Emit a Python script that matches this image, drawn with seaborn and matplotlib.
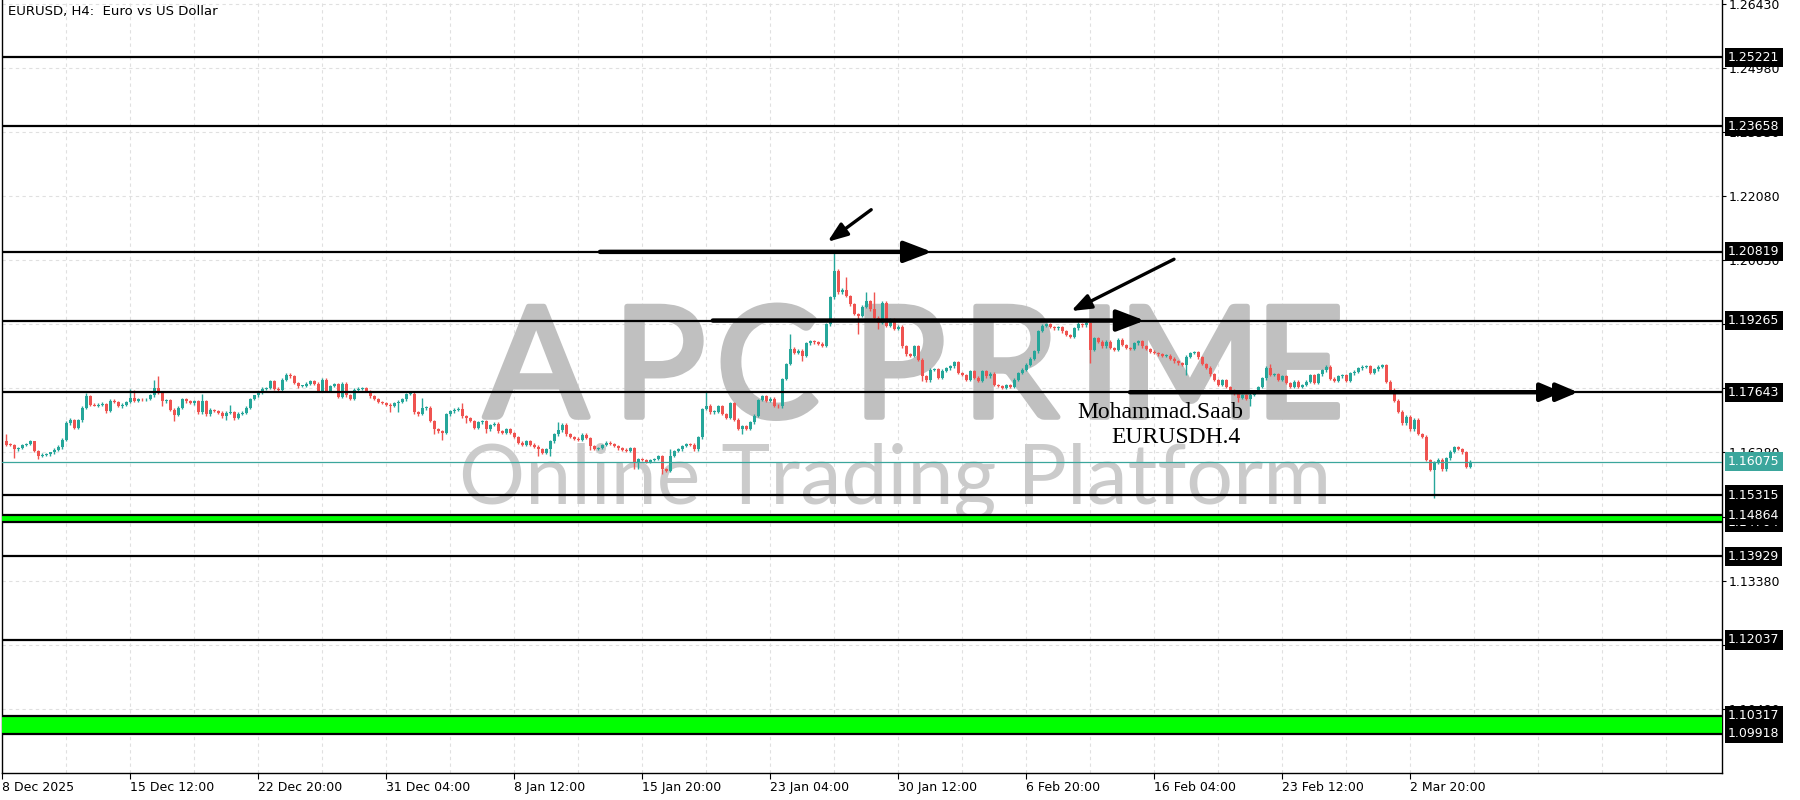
import numpy as np
import pandas as pd
import matplotlib
matplotlib.use('Agg')
import matplotlib.pyplot as plt
import matplotlib.patheffects as pe
import seaborn as sns

# EURUSD H4 candles, first bar 8 Dec 2025 04:00
first_open = 1.1655
closes = [
    1.1646, 1.1645, 1.1635, 1.1638, 1.1645, 1.1647, 1.1653, 1.1631, 1.1620, 1.1623,
    1.1624, 1.1628, 1.1634, 1.1640, 1.1657, 1.1694, 1.1702, 1.1684, 1.1701, 1.1729,
    1.1756, 1.1736, 1.1734, 1.1736, 1.1738, 1.1721, 1.1745, 1.1742, 1.1733, 1.1736,
    1.1742, 1.1751, 1.1745, 1.1749, 1.1748, 1.1749, 1.1757, 1.1774, 1.1763, 1.1744,
    1.1746, 1.1725, 1.1713, 1.1729, 1.1748, 1.1744, 1.1740, 1.1744, 1.1719, 1.1744,
    1.1714, 1.1725, 1.1722, 1.1718, 1.1710, 1.1718, 1.1719, 1.1706, 1.1716, 1.1718,
    1.1729, 1.1749, 1.1757, 1.1763, 1.1772, 1.1774, 1.1789, 1.1772, 1.1769, 1.1793,
    1.1804, 1.1800, 1.1785, 1.1778, 1.1778, 1.1784, 1.1789, 1.1784, 1.1767, 1.1793,
    1.1767, 1.1778, 1.1782, 1.1754, 1.1784, 1.1757, 1.1749, 1.1770, 1.1772, 1.1773,
    1.1767, 1.1755, 1.1749, 1.1742, 1.1740, 1.1736, 1.1733, 1.1739, 1.1743, 1.1748,
    1.1760, 1.1761, 1.1719, 1.1716, 1.1728, 1.1729, 1.1699, 1.1681, 1.1676, 1.1672,
    1.1714, 1.1721, 1.1725, 1.1727, 1.1710, 1.1706, 1.1699, 1.1684, 1.1696, 1.1699,
    1.1680, 1.1690, 1.1693, 1.1676, 1.1672, 1.1681, 1.1672, 1.1663, 1.1650, 1.1646,
    1.1654, 1.1646, 1.1641, 1.1635, 1.1627, 1.1636, 1.1653, 1.1669, 1.1678, 1.1691,
    1.1669, 1.1663, 1.1659, 1.1656, 1.1668, 1.1661, 1.1642, 1.1636, 1.1638, 1.1645,
    1.1650, 1.1647, 1.1643, 1.1637, 1.1634, 1.1632, 1.1637, 1.1605, 1.1613, 1.1611,
    1.1607, 1.1611, 1.1613, 1.1619, 1.1590, 1.1586, 1.1620, 1.1631, 1.1635, 1.1643,
    1.1647, 1.1646, 1.1635, 1.1662, 1.1726, 1.1734, 1.1719, 1.1720, 1.1732, 1.1715,
    1.1707, 1.1740, 1.1702, 1.1681, 1.1688, 1.1682, 1.1696, 1.1711, 1.1747, 1.1756,
    1.1745, 1.1750, 1.1734, 1.1732, 1.1794, 1.1828, 1.1863, 1.1854, 1.1858, 1.1847,
    1.1875, 1.1880, 1.1877, 1.1874, 1.1869, 1.1918, 1.1979, 1.2039, 1.1990, 1.1996,
    1.1982, 1.1963, 1.1941, 1.1937, 1.1958, 1.1970, 1.1952, 1.1933, 1.1922, 1.1967,
    1.1915, 1.1930, 1.1907, 1.1913, 1.1868, 1.1850, 1.1846, 1.1868, 1.1838, 1.1800,
    1.1791, 1.1815, 1.1817, 1.1797, 1.1813, 1.1818, 1.1823, 1.1832, 1.1808, 1.1803,
    1.1793, 1.1812, 1.1797, 1.1790, 1.1812, 1.1800, 1.1806, 1.1781, 1.1778, 1.1774,
    1.1780, 1.1776, 1.1793, 1.1808, 1.1815, 1.1827, 1.1840, 1.1857, 1.1903, 1.1915,
    1.1919, 1.1912, 1.1909, 1.1911, 1.1902, 1.1894, 1.1890, 1.1909, 1.1919, 1.1916,
    1.1921, 1.1860, 1.1887, 1.1879, 1.1868, 1.1879, 1.1864, 1.1860, 1.1883, 1.1871,
    1.1864, 1.1862, 1.1875, 1.1880, 1.1868, 1.1862, 1.1856, 1.1853, 1.1850, 1.1846,
    1.1847, 1.1840, 1.1834, 1.1830, 1.1826, 1.1845, 1.1853, 1.1855, 1.1843, 1.1828,
    1.1820, 1.1805, 1.1792, 1.1781, 1.1792, 1.1776, 1.1768, 1.1760, 1.1752, 1.1757,
    1.1749, 1.1759, 1.1765, 1.1776, 1.1796, 1.1820, 1.1803, 1.1805, 1.1792, 1.1800,
    1.1785, 1.1777, 1.1788, 1.1776, 1.1781, 1.1788, 1.1803, 1.1785, 1.1805, 1.1814,
    1.1822, 1.1795, 1.1790, 1.1800, 1.1803, 1.1790, 1.1807, 1.1811, 1.1818, 1.1822,
    1.1824, 1.1808, 1.1816, 1.1822, 1.1826, 1.1788, 1.1770, 1.1745, 1.1720, 1.1694,
    1.1709, 1.1680, 1.1702, 1.1670, 1.1664, 1.1611, 1.1588, 1.1605, 1.1612, 1.1590,
    1.1615, 1.1630, 1.1640, 1.1636, 1.1628, 1.1595, 1.16075,
]
# shadows in pips (0.0001)
wick_up = [
    15, 3, 2, 3, 2, 3, 3, 2, 2, 4, 3, 2, 3, 4, 3, 5, 5, 2, 2, 3,
    7, 2, 3, 3, 4, 2, 3, 4, 2, 3, 3, 21, 18, 3, 3, 3, 4, 19, 28, 3,
    3, 3, 3, 3, 3, 3, 3, 3, 3, 17, 3, 3, 2, 3, 3, 3, 17, 3, 3, 3,
    3, 3, 2, 3, 3, 2, 4, 3, 3, 3, 4, 3, 3, 3, 3, 3, 3, 3, 4, 3,
    3, 3, 3, 3, 3, 3, 3, 3, 3, 3, 3, 3, 3, 3, 3, 3, 3, 3, 3, 3,
    3, 3, 3, 3, 23, 3, 3, 3, 3, 3, 3, 3, 3, 3, 13, 3, 3, 3, 3, 3,
    3, 3, 3, 3, 3, 3, 3, 3, 3, 3, 3, 3, 3, 3, 3, 3, 3, 3, 18, 3,
    3, 3, 3, 3, 3, 3, 3, 3, 3, 3, 3, 3, 3, 3, 3, 3, 3, 3, 3, 3,
    3, 3, 3, 3, 3, 3, 15, 3, 3, 3, 3, 3, 3, 3, 3, 33, 3, 3, 3, 3,
    3, 3, 3, 3, 3, 3, 3, 3, 3, 3, 3, 3, 3, 3, 3, 3, 33, 3, 3, 3,
    3, 3, 3, 3, 3, 3, 3, 41, 3, 3, 28, 3, 3, 3, 3, 21, 3, 39, 3, 3,
    3, 3, 3, 3, 3, 3, 3, 3, 3, 3, 3, 3, 3, 3, 3, 3, 3, 3, 3, 3,
    3, 3, 3, 3, 3, 3, 3, 3, 3, 3, 3, 3, 3, 3, 3, 3, 3, 3, 3, 3,
    3, 3, 3, 3, 3, 3, 3, 3, 5, 3, 5, 3, 3, 3, 3, 3, 3, 3, 3, 3,
    3, 3, 3, 3, 3, 3, 3, 3, 3, 3, 3, 3, 3, 3, 3, 3, 3, 3, 3, 3,
    3, 3, 3, 3, 3, 3, 3, 3, 3, 3, 3, 3, 3, 3, 3, 3, 8, 3, 3, 3,
    3, 3, 3, 3, 3, 3, 3, 3, 3, 3, 3, 3, 3, 3, 3, 3, 3, 3, 3, 3,
    3, 3, 3, 3, 3, 3, 3, 3, 3, 3, 3, 3, 3, 3, 3, 3, 3, 3, 3, 3,
    3, 3, 3, 3, 3, 3, 3,
]
wick_dn = [
    3, 3, 20, 4, 3, 2, 3, 3, 6, 3, 4, 3, 3, 3, 4, 2, 3, 3, 2, 3,
    2, 3, 2, 3, 3, 3, 2, 2, 3, 4, 3, 3, 3, 3, 3, 3, 3, 3, 3, 11,
    3, 4, 13, 3, 2, 3, 3, 4, 3, 3, 4, 3, 3, 3, 3, 8, 3, 4, 3, 3,
    3, 3, 3, 3, 2, 3, 3, 3, 4, 3, 3, 3, 3, 4, 3, 3, 3, 3, 3, 3,
    3, 3, 3, 3, 3, 4, 3, 3, 3, 3, 3, 3, 3, 3, 3, 3, 14, 3, 20, 3,
    3, 3, 3, 6, 3, 3, 3, 12, 3, 15, 3, 3, 3, 3, 3, 12, 3, 3, 3, 3,
    9, 3, 3, 3, 3, 3, 3, 3, 3, 3, 3, 3, 3, 15, 3, 3, 16, 3, 3, 3,
    3, 3, 3, 3, 3, 3, 9, 3, 3, 3, 3, 3, 3, 3, 3, 3, 3, 15, 15, 3,
    3, 3, 3, 3, 11, 3, 3, 3, 3, 3, 3, 3, 3, 3, 3, 3, 3, 3, 3, 3,
    3, 3, 3, 3, 12, 3, 3, 3, 3, 3, 3, 3, 3, 3, 3, 3, 3, 3, 3, 12,
    3, 3, 3, 3, 3, 3, 3, 3, 3, 3, 3, 3, 3, 41, 3, 3, 3, 3, 15, 3,
    3, 3, 3, 3, 3, 3, 3, 3, 3, 11, 3, 3, 3, 3, 3, 3, 3, 3, 3, 3,
    3, 3, 3, 3, 3, 3, 3, 3, 3, 3, 3, 3, 3, 3, 3, 3, 3, 3, 3, 3,
    3, 3, 3, 3, 3, 3, 3, 3, 3, 3, 3, 30, 3, 3, 3, 3, 3, 3, 3, 3,
    3, 3, 3, 3, 3, 3, 3, 3, 3, 3, 3, 3, 3, 3, 3, 23, 3, 3, 3, 3,
    3, 3, 3, 3, 3, 3, 3, 3, 9, 3, 3, 15, 3, 3, 3, 3, 3, 3, 3, 3,
    3, 3, 3, 3, 3, 3, 3, 3, 3, 3, 3, 3, 3, 3, 3, 3, 3, 3, 3, 3,
    3, 3, 3, 3, 3, 3, 3, 3, 3, 3, 3, 3, 3, 3, 3, 3, 3, 64, 3, 3,
    3, 3, 3, 3, 3, 3, 3,
]

level_prices = [1.25221, 1.23658, 1.20819, 1.19265, 1.17643, 1.15315,
                1.14704, 1.14864, 1.13929, 1.12037, 1.10317, 1.09918]
zones = [(1.14704, 1.14864), (1.09918, 1.10317)]
bid_price = 1.16075
ytick_prices = [1.26430, 1.24980, 1.23530, 1.22080, 1.20630, 1.19180,
                1.17730, 1.16280, 1.14830, 1.13380, 1.11930, 1.10480]
xtick_labels = ['8 Dec 2025', '15 Dec 12:00', '22 Dec 20:00', '31 Dec 04:00',
                '8 Jan 12:00', '15 Jan 20:00', '23 Jan 04:00', '30 Jan 12:00',
                '6 Feb 20:00', '16 Feb 04:00', '23 Feb 12:00', '2 Mar 20:00']
bars_per_label = 32

sns.set_theme(style='white')
plt.rcParams['font.family'] = ['DejaVu Sans']

df = pd.DataFrame({'close': closes, 'up': wick_up, 'dn': wick_dn})
df['open'] = df['close'].shift(1).fillna(first_open)
df['high'] = df[['open', 'close']].max(axis=1) + df['up'] * 1e-4
df['low'] = df[['open', 'close']].min(axis=1) - df['dn'] * 1e-4
df['pos'] = np.arange(1, len(df) + 1)
bull = df['close'] >= df['open']
green, red = '#26a69a', '#ef5350'
colors = np.where(bull, green, red)

W, H = 1800, 800
fig = plt.figure(figsize=(18, 8), dpi=100)
fig.patch.set_facecolor('white')
ax = fig.add_axes([2 / W, 27 / H, 1720 / W, 773 / H])
ax.set_xlim(0, 430)
ax.set_ylim(1.09027, 1.26518)
ax.set_facecolor('white')

# grid
for gx in range(16, 430, 16):
    ax.axvline(gx, color='#e0e0e0', lw=0.8, ls=(0, (3, 3)), zorder=0.3)
for gy in ytick_prices:
    ax.axhline(gy, color='#e0e0e0', lw=0.8, ls=(0, (3, 3)), zorder=0.3)

# watermark, one letter at a time (left edge in px)
wm_grey = '#c0c0c0'
wm_letters = [('A', 484), ('P', 613), ('C', 716), ('P', 853), ('R', 962),
              ('I', 1078), ('M', 1118), ('E', 1255)]
for ch, xl in wm_letters:
    ax.text(xl / W, 1 - 417 / H, ch, transform=fig.transFigure,
            family='Lato', weight='normal', fontsize=111, color=wm_grey,
            ha='left', va='baseline', zorder=0.6, clip_on=False,
            path_effects=[pe.withStroke(linewidth=4, foreground=wm_grey)])
wm2 = ax.text(459 / W, 1 - 503 / H, 'Online Trading Platform', transform=fig.transFigure,
              family='Lato', weight='normal', fontsize=60, color='#cbcbcb',
              ha='left', va='baseline', zorder=0.6, clip_on=False)
fig.canvas.draw()
r = fig.canvas.get_renderer()
w = wm2.get_window_extent(r).width
wm2.set_fontsize(wm2.get_fontsize() * 873 / w)

# candles
ax.vlines(df['pos'], df['low'], df['high'], colors=colors, lw=1.0, zorder=2)
body_lo = df[['open', 'close']].min(axis=1)
body_h = np.maximum((df['close'] - df['open']).abs(), 0.00018)
ax.bar(df['pos'], body_h, bottom=body_lo, width=0.75, color=colors, lw=0, zorder=2.1)

# levels
for lo, hi in zones:
    ax.axhspan(lo, hi, color='#00ff00', lw=0, zorder=2.8)
for p in level_prices:
    ax.axhline(p, color='black', lw=1.6, zorder=3)
ax.axhline(bid_price, color='#3ba69c', lw=0.9, zorder=2.9)


def draw_arrow(x0, y0, x1, y1, lw, hl, hw):
    ax.annotate('', xy=(x1, y1), xytext=(x0, y0), zorder=4,
                arrowprops=dict(arrowstyle=f'-|>,head_length={hl},head_width={hw}',
                                color='black', lw=lw, shrinkA=0, shrinkB=0,
                                mutation_scale=10))


draw_arrow(149.5, 1.20819, 232.5, 1.20819, 3.2, 1.7, 0.65)
draw_arrow(177.7, 1.19265, 285.7, 1.19265, 3.2, 1.7, 0.65)
draw_arrow(282.0, 1.17643, 390.0, 1.17643, 3.2, 1.3, 0.55)
draw_arrow(389.0, 1.17643, 394.0, 1.17643, 3.2, 1.3, 0.55)
draw_arrow(217.3, 1.21773, 206.4, 1.21046, 2.4, 1.2, 0.45)
draw_arrow(293.0, 1.20652, 267.3, 1.19480, 2.4, 1.2, 0.45)

ax.text(289.5, 1.17173, 'Mohammad.Saab', family='Liberation Serif', fontsize=17,
        ha='center', va='center', color='black', zorder=5)
ax.text(293.5, 1.16628, 'EURUSDH.4', family='Liberation Serif', fontsize=17,
        ha='center', va='center', color='black', zorder=5)

# axes cosmetics
ax.spines['top'].set_visible(False)
for s in ['left', 'right', 'bottom']:
    ax.spines[s].set_color('black')
    ax.spines[s].set_linewidth(1.0)
ax.yaxis.tick_right()
ax.set_yticks(ytick_prices)
ax.set_yticklabels([f'{v:.5f}' for v in ytick_prices])
ax.set_xticks(np.arange(len(xtick_labels)) * bars_per_label)
ax.set_xticklabels(xtick_labels, ha='left')
ax.tick_params(axis='y', which='both', right=True, length=3, width=0.8, pad=1.5,
               labelsize=9, colors='black')
ax.tick_params(axis='x', which='both', bottom=True, length=4, width=0.8, pad=2,
               labelsize=9, colors='black')

ytr = ax.get_yaxis_transform()
for p in level_prices:
    ax.text(1.0035, p, f'{p:.5f}', transform=ytr, fontsize=9, color='white',
            ha='left', va='center', zorder=6, clip_on=False,
            bbox=dict(boxstyle='square,pad=0.25', fc='black', ec='none'))
ax.text(1.0035, bid_price, f'{bid_price:.5f}', transform=ytr, fontsize=9, color='white',
        ha='left', va='center', zorder=6, clip_on=False,
        bbox=dict(boxstyle='square,pad=0.25', fc='#3ba69c', ec='none'))

fig.text(8 / W, 1 - 12 / H, 'EURUSD, H4:  Euro vs US Dollar', fontsize=9.5,
         color='black', ha='left', va='center')

fig.savefig('out.png', dpi=100, facecolor='white')
